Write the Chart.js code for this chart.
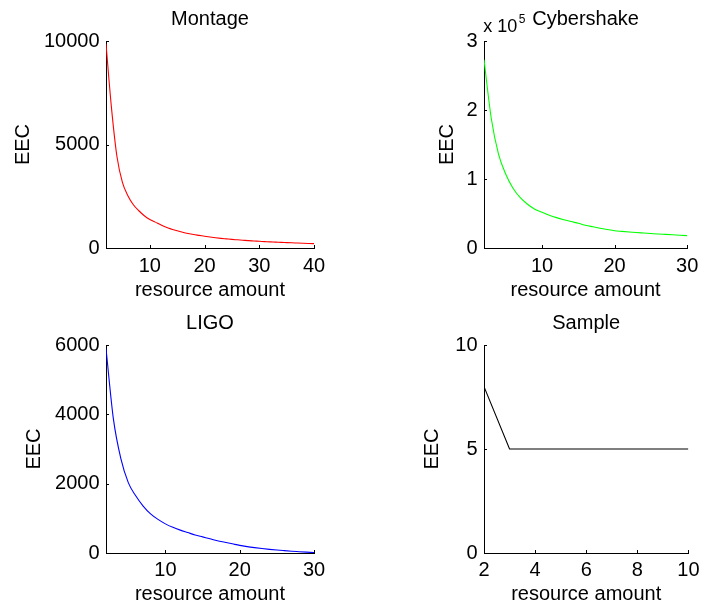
<!DOCTYPE html>
<html>
<head>
<meta charset="utf-8">
<script src="https://cdn.jsdelivr.net/npm/chart.js@4.4.1/dist/chart.umd.min.js"></script>
<style>
  html, body { margin: 0; padding: 0; background: #ffffff; }
  #wrap { position: relative; width: 705px; height: 607px; overflow: hidden; background: #fff; }
  canvas { position: absolute; }
</style>
</head>
<body>
<div id="wrap">
  <canvas id="c1" width="352" height="303" style="left:0px;top:0px;width:352px;height:303px"></canvas>
  <canvas id="c2" width="353" height="303" style="left:352px;top:0px;width:353px;height:303px"></canvas>
  <canvas id="c3" width="352" height="304" style="left:0px;top:303px;width:352px;height:304px"></canvas>
  <canvas id="c4" width="353" height="304" style="left:352px;top:303px;width:353px;height:304px"></canvas>
</div>
<script>
// ---------- data ----------
const montageX = [2,3,4,5,6,7,8,9,10,11,12,13,14,15,16,17,18,19,20,21,22,23,24,25,26,27,28,29,30,31,32,33,34,35,36,37,38,39,40];
const montageEEC = [9860,6770,4420,3170,2525,2090,1800,1560,1380,1250,1120,1000,910,830,760,700,650,610,570,530,495,465,440,415,395,375,355,340,325,310,295,285,270,260,250,240,230,220,210];

const cyberX = [2,3,4,5,6,7,8,9,10,11,12,13,14,15,16,17,18,19,20,21,22,23,24,25,26,27,28,29,30];
const cyberEEC = [273000,188000,136000,107000,86700,72900,63400,56300,51700,47500,44000,41000,38300,35800,33000,30800,28700,26800,25100,24100,23200,22400,21700,21000,20300,19700,19100,18500,17900];

const ligoX = [2,3,4,5,6,7,8,9,10,11,12,13,14,15,16,17,18,19,20,21,22,23,24,25,26,27,28,29,30];
const ligoEEC = [5900,3860,2720,2030,1650,1355,1130,970,840,740,660,590,520,465,410,355,310,265,220,185,155,128,105,85,68,52,38,24,10];

const sampleX = [2,3,4,5,6,7,8,9,10];
const sampleEEC = [8,5,5,5,5,5,5,5,5];

const montageXTicks = [10,20,30,40];
const montageYTicks = [0,5000,10000];
const cyberXTicks = [10,20,30];
const cyberYTicks = [0,100000,200000,300000];
const ligoXTicks = [10,20,30];
const ligoYTicks = [0,2000,4000,6000];
const sampleXTicks = [2,4,6,8,10];
const sampleYTicks = [0,5,10];

const titles = ['Montage','Cybershake','LIGO','Sample'];
const xAxisLabel = 'resource amount';
const yAxisLabel = 'EEC';
const cyberExponentBase = 'x 10';
const cyberExponent = '5';

// ---------- styling ----------
const FONT = "'Liberation Sans', Arial, Helvetica, sans-serif";
const FS = 20;

const innerTicks = {
  id: 'innerTicks',
  afterDraw(chart) {
    const ctx = chart.ctx;
    const xs = chart.scales.x, ys = chart.scales.y;
    const a = chart.chartArea;
    const len = 3;
    ctx.save();
    ctx.strokeStyle = '#000';
    ctx.lineWidth = 1;
    ctx.beginPath();
    xs.ticks.forEach(t => {
      const px = Math.round(xs.getPixelForValue(t.value)) + 0.5;
      ctx.moveTo(px, a.bottom);
      ctx.lineTo(px, a.bottom - len);
    });
    ys.ticks.forEach(t => {
      const py = Math.round(ys.getPixelForValue(t.value)) + 0.5;
      ctx.moveTo(a.left, py);
      ctx.lineTo(a.left + len, py);
    });
    ctx.stroke();
    ctx.restore();
  }
};

// title centred over the plot area, plus the "x 10^5" multiplier
const plotTitle = {
  id: 'plotTitle',
  afterDraw(chart, args, opts) {
    const ctx = chart.ctx;
    const a = chart.chartArea;
    ctx.save();
    ctx.fillStyle = '#000';
    ctx.textBaseline = 'alphabetic';
    ctx.textAlign = 'center';
    ctx.font = FS + 'px ' + FONT;
    ctx.fillText(opts.text, (a.left + a.right) / 2, opts.baseline);
    if (opts.exponent) {
      ctx.textAlign = 'left';
      ctx.font = '18px ' + FONT;
      const x0 = a.left - 0.7;
      ctx.fillText(cyberExponentBase, x0, 31.7);
      const w = ctx.measureText(cyberExponentBase).width;
      ctx.font = '12px ' + FONT;
      ctx.fillText(cyberExponent, x0 + w + 1.5, 23);
    }
    ctx.restore();
  }
};

function makeChart(id, cfg) {
  const data = cfg.xs.map((x, i) => ({x: x, y: cfg.ys[i]}));
  return new Chart(document.getElementById(id), {
    type: 'line',
    data: {
      datasets: [{
        data: data,
        borderColor: cfg.color,
        borderWidth: 1.1,
        pointRadius: 0,
        fill: false,
        tension: 0,
        cubicInterpolationMode: cfg.smooth ? 'monotone' : 'default'
      }]
    },
    plugins: [innerTicks, plotTitle],
    options: {
      responsive: false,
      animation: false,
      devicePixelRatio: 1,
      layout: { padding: { left: 0, top: cfg.padTop, right: cfg.padRight, bottom: 0 } },
      plugins: {
        legend: { display: false },
        tooltip: { enabled: false },
        title: { display: false },
        plotTitle: { text: cfg.title, baseline: cfg.titleBaseline, exponent: !!cfg.exponent }
      },
      scales: {
        x: {
          type: 'linear',
          min: cfg.xMin,
          max: cfg.xMax,
          afterBuildTicks: (s) => { s.ticks = cfg.xTicks.map(v => ({value: v})); },
          afterFit: (s) => { s.height = cfg.xAxisH; },
          grid: { display: true, drawOnChartArea: false, drawTicks: false },
          border: { display: true, color: '#000', width: 1 },
          ticks: {
            color: '#000',
            padding: cfg.xTickPad,
            maxRotation: 0,
            autoSkip: false,
            font: { family: FONT, size: FS, lineHeight: 1.2 },
            callback: (v) => String(v)
          },
          title: {
            display: true,
            text: xAxisLabel,
            color: '#000',
            font: { family: FONT, size: FS, lineHeight: 1.2 },
            padding: { top: 0, bottom: cfg.xTitlePadB }
          }
        },
        y: {
          type: 'linear',
          min: cfg.yMin,
          max: cfg.yMax,
          afterBuildTicks: (s) => { s.ticks = cfg.yTicks.map(v => ({value: v})); },
          afterFit: (s) => { s.width = cfg.yAxisW; },
          grid: { display: true, drawOnChartArea: false, drawTicks: false },
          border: { display: true, color: '#000', width: 1 },
          ticks: {
            color: '#000',
            padding: 6.5,
            autoSkip: false,
            font: { family: FONT, size: FS, lineHeight: 1.2 },
            callback: (v) => String(cfg.yScaleDiv ? v / cfg.yScaleDiv : v)
          },
          title: {
            display: true,
            text: yAxisLabel,
            color: '#000',
            font: { family: FONT, size: FS, lineHeight: 1.2 },
            padding: { top: cfg.yTitlePad, bottom: 0 }
          }
        }
      }
    }
  });
}

makeChart('c1', {
  xs: montageX, ys: montageEEC, color: '#ff0000', title: titles[0], smooth: true,
  xMin: 2, xMax: 40, yMin: 0, yMax: 10000, xTicks: montageXTicks, yTicks: montageYTicks,
  padTop: 41, padRight: 38, titleBaseline: 24.5, yAxisW: 106, xAxisH: 55,
  yTitlePad: 11, xTitlePadB: 0.7, xTickPad: 6.7
});
makeChart('c2', {
  xs: cyberX, ys: cyberEEC, color: '#00ff00', title: titles[1], smooth: true,
  xMin: 2, xMax: 30, yMin: 0, yMax: 300000, xTicks: cyberXTicks, yTicks: cyberYTicks, yScaleDiv: 100000,
  padTop: 41, padRight: 13, titleBaseline: 25, yAxisW: 132, xAxisH: 55,
  yTitlePad: 83, xTitlePadB: 0.7, xTickPad: 6.7, exponent: true
});
makeChart('c3', {
  xs: ligoX, ys: ligoEEC, color: '#0000ff', title: titles[2], smooth: true,
  xMin: 2, xMax: 30, yMin: 0, yMax: 6000, xTicks: ligoXTicks, yTicks: ligoYTicks,
  padTop: 42, padRight: 38, titleBaseline: 26.3, yAxisW: 106, xAxisH: 54,
  yTitlePad: 22, xTitlePadB: 0.9, xTickPad: 5.5
});
makeChart('c4', {
  xs: sampleX, ys: sampleEEC, color: '#000000', title: titles[3], smooth: false,
  xMin: 2, xMax: 10, yMin: 0, yMax: 10, xTicks: sampleXTicks, yTicks: sampleYTicks,
  padTop: 42, padRight: 13, titleBaseline: 26.3, yAxisW: 132, xAxisH: 54,
  yTitlePad: 68.5, xTitlePadB: 0.9, xTickPad: 5.5
});
</script>
</body>
</html>
